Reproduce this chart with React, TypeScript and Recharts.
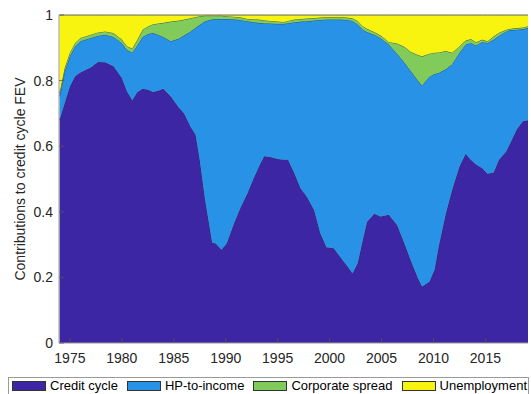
import { AreaChart, Area, XAxis, YAxis } from 'recharts';

const years = [
  1974.0, 1974.5, 1975.0, 1975.5, 1976.0, 1977.0, 1977.7, 1978.4, 1979.2, 1980.0,
  1980.5, 1981.0, 1981.5, 1982.0, 1982.5, 1983.0, 1983.5, 1984.0, 1984.7, 1985.5,
  1986.0, 1986.6, 1987.1, 1987.5, 1988.0, 1988.7, 1989.0, 1989.6, 1990.1, 1990.8,
  1991.4, 1992.1, 1992.7, 1993.2, 1993.7, 1994.3, 1995.0, 1995.6, 1996.0, 1996.6,
  1997.2, 1997.8, 1998.5, 1999.1, 1999.7, 2000.4, 2001.1, 2001.7, 2002.2, 2002.7,
  2003.2, 2003.6, 2004.3, 2004.9, 2005.7, 2006.5, 2007.2, 2007.8, 2008.5, 2008.9,
  2009.6, 2010.1, 2010.5, 2011.2, 2011.8, 2012.5, 2013.1, 2013.6, 2014.1, 2014.7,
  2015.2, 2015.8, 2016.3, 2017.0, 2017.4, 2018.0, 2018.6, 2019.1,
];

const creditCycle = [
  0.68, 0.732, 0.783, 0.813, 0.825, 0.84, 0.857, 0.856, 0.844, 0.808,
  0.767, 0.74, 0.765, 0.775, 0.772, 0.765, 0.769, 0.775, 0.752, 0.717,
  0.70, 0.66, 0.635, 0.559, 0.44, 0.306, 0.304, 0.284, 0.304, 0.365,
  0.411, 0.457, 0.503, 0.538, 0.569, 0.567, 0.561, 0.559, 0.559, 0.518,
  0.472, 0.447, 0.406, 0.335, 0.292, 0.289, 0.259, 0.235, 0.213, 0.243,
  0.315, 0.37, 0.394, 0.386, 0.391, 0.36, 0.304, 0.253, 0.198, 0.172,
  0.187, 0.223, 0.294, 0.396, 0.467, 0.538, 0.577, 0.559, 0.544, 0.533,
  0.516, 0.52, 0.559, 0.584, 0.61, 0.65, 0.676, 0.679,
];

const hpToIncome = [
  0.072, 0.097, 0.091, 0.092, 0.095, 0.09, 0.08, 0.084, 0.089, 0.107,
  0.126, 0.146, 0.143, 0.158, 0.17, 0.18, 0.171, 0.158, 0.168, 0.211,
  0.238, 0.29, 0.326, 0.411, 0.541, 0.681, 0.684, 0.704, 0.684, 0.622,
  0.574, 0.524, 0.475, 0.438, 0.406, 0.407, 0.412, 0.414, 0.416, 0.46,
  0.508, 0.534, 0.577, 0.65, 0.694, 0.697, 0.727, 0.75, 0.769, 0.728,
  0.64, 0.578, 0.546, 0.544, 0.519, 0.522, 0.551, 0.577, 0.602, 0.613,
  0.625, 0.597, 0.529, 0.439, 0.383, 0.347, 0.333, 0.356, 0.363, 0.385,
  0.399, 0.405, 0.378, 0.366, 0.344, 0.305, 0.281, 0.281,
];

const corporateSpread = [
  0.01, 0.01, 0.011, 0.01, 0.01, 0.01, 0.01, 0.01, 0.012, 0.01,
  0.012, 0.012, 0.017, 0.022, 0.023, 0.027, 0.034, 0.043, 0.06, 0.055,
  0.048, 0.04, 0.033, 0.026, 0.017, 0.011, 0.01, 0.01, 0.008, 0.008,
  0.008, 0.007, 0.009, 0.01, 0.009, 0.008, 0.007, 0.006, 0.007, 0.008,
  0.008, 0.008, 0.008, 0.007, 0.007, 0.007, 0.007, 0.007, 0.008, 0.011,
  0.011, 0.01, 0.008, 0.008, 0.008, 0.031, 0.048, 0.058, 0.078, 0.089,
  0.07, 0.065, 0.063, 0.055, 0.035, 0.02, 0.012, 0.012, 0.01, 0.007,
  0.005, 0.01, 0.009, 0.005, 0.004, 0.005, 0.005, 0.006,
];

const unemployment = [
  0.238, 0.161, 0.115, 0.085, 0.07, 0.06, 0.053, 0.05, 0.055, 0.075,
  0.095, 0.102, 0.075, 0.045, 0.035, 0.028, 0.026, 0.024, 0.02, 0.017,
  0.014, 0.01, 0.006, 0.004, 0.002, 0.002, 0.002, 0.002, 0.004, 0.005,
  0.007, 0.012, 0.013, 0.014, 0.016, 0.018, 0.02, 0.021, 0.018, 0.014,
  0.012, 0.011, 0.009, 0.008, 0.007, 0.007, 0.007, 0.008, 0.01, 0.018,
  0.034, 0.042, 0.052, 0.062, 0.082, 0.087, 0.097, 0.112, 0.122, 0.126,
  0.118, 0.115, 0.114, 0.11, 0.115, 0.095, 0.078, 0.073, 0.083, 0.075,
  0.08, 0.065, 0.054, 0.045, 0.042, 0.04, 0.038, 0.034,
];

const xTicks = [1975, 1980, 1985, 1990, 1995, 2000, 2005, 2010, 2015];
const yTicks = [0, 0.2, 0.4, 0.6, 0.8, 1];

const SERIES = [
  { key: 'credit', name: 'Credit cycle', color: '#3d26a3' },
  { key: 'hp', name: 'HP-to-income', color: '#2893e6' },
  { key: 'corp', name: 'Corporate spread', color: '#80cb59' },
  { key: 'unemp', name: 'Unemployment', color: '#f8f40f' },
];

const data = years.map((yr, i) => ({
  year: yr,
  credit: creditCycle[i],
  hp: hpToIncome[i],
  corp: corporateSpread[i],
  unemp: unemployment[i],
}));

const FONT = '"Liberation Sans", Arial, Helvetica, sans-serif';
const TEXT = '#262626';
const FRAME = '#9a9a9a';
const TICK = '#555';

const PLOT_TOP = 15;
const PLOT_BOTTOM = 343;
const PLOT_LEFT = 59;
const PLOT_RIGHT = 528;

function BottomTick({ x, payload }: any) {
  return (
    <g>
      <line x1={x} x2={x} y1={PLOT_BOTTOM} y2={PLOT_BOTTOM - 5} stroke={TICK} strokeWidth={0.8} />
      <text x={x} y={PLOT_BOTTOM + 20} textAnchor="middle" fontSize={14} fontFamily={FONT} fill={TEXT}>
        {payload.value}
      </text>
    </g>
  );
}

function TopTick({ x }: any) {
  return <line x1={x} x2={x} y1={PLOT_TOP} y2={PLOT_TOP + 5} stroke={TICK} strokeWidth={0.8} />;
}

function LeftTick({ y, payload }: any) {
  return (
    <g>
      <line x1={PLOT_LEFT} x2={PLOT_LEFT + 5} y1={y} y2={y} stroke={TICK} strokeWidth={0.8} />
      <text x={PLOT_LEFT - 6} y={y + 5} textAnchor="end" fontSize={14} fontFamily={FONT} fill={TEXT}>
        {payload.value}
      </text>
    </g>
  );
}

function RightTick({ y }: any) {
  return <line x1={PLOT_RIGHT} x2={PLOT_RIGHT - 5} y1={y} y2={y} stroke={TICK} strokeWidth={0.8} />;
}

function LegendBox() {
  return (
    <div
      style={{
        position: 'absolute',
        left: 8,
        top: 377,
        width: 521,
        height: 20,
        display: 'flex',
        alignItems: 'center',
        border: `1px solid ${FRAME}`,
        background: '#fff',
        fontFamily: FONT,
        fontSize: 13,
        color: '#000',
        paddingLeft: 3,
        paddingBottom: 3,
        boxSizing: 'border-box',
      }}
    >
      {SERIES.map((s, i) => (
        <div key={s.key} style={{ display: 'flex', alignItems: 'center', marginLeft: i === 0 ? 0 : 9 }}>
          <span
            style={{
              display: 'inline-block',
              width: 32,
              height: 8,
              background: s.color,
              border: '1px solid #333',
              marginRight: 4,
            }}
          />
          <span style={{ whiteSpace: 'nowrap' }}>{s.name}</span>
        </div>
      ))}
    </div>
  );
}

export default function App() {
  return (
    <div style={{ position: 'absolute', left: 0, top: 0, width: 531, height: 394, background: '#fff', overflow: 'hidden' }}>
      <AreaChart width={531} height={394} data={data} margin={{ top: PLOT_TOP, right: 531 - PLOT_RIGHT, bottom: 0, left: 0 }}>
        <XAxis
          xAxisId="b"
          dataKey="year"
          type="number"
          domain={[1973.95, 2019.1]}
          allowDataOverflow
          ticks={xTicks}
          height={394 - PLOT_BOTTOM}
          axisLine={{ stroke: FRAME }}
          tickLine={false}
          tick={<BottomTick />}
        />
        <XAxis
          xAxisId="t"
          dataKey="year"
          type="number"
          orientation="top"
          domain={[1973.95, 2019.1]}
          allowDataOverflow
          ticks={xTicks}
          height={0}
          axisLine={{ stroke: FRAME }}
          tickLine={false}
          tick={<TopTick />}
        />
        <YAxis
          yAxisId="l"
          type="number"
          domain={[0, 1]}
          ticks={yTicks}
          width={PLOT_LEFT}
          axisLine={{ stroke: FRAME }}
          tickLine={false}
          tick={<LeftTick />}
          label={{
            value: 'Contributions to credit cycle FEV',
            angle: -90,
            position: 'center',
            dx: -9,
            style: { fontFamily: FONT, fontSize: 14, fill: TEXT, textAnchor: 'middle' },
          }}
        />
        <YAxis
          yAxisId="r"
          orientation="right"
          type="number"
          domain={[0, 1]}
          ticks={yTicks}
          width={0}
          axisLine={{ stroke: FRAME }}
          tickLine={false}
          tick={<RightTick />}
        />
        {SERIES.map((s) => (
          <Area
            key={s.key}
            xAxisId="b"
            yAxisId="l"
            type="linear"
            dataKey={s.key}
            name={s.name}
            stackId="fev"
            fill={s.color}
            fillOpacity={1}
            stroke="#1e2a45"
            strokeWidth={0.7}
            isAnimationActive={false}
          />
        ))}
      </AreaChart>
      <LegendBox />
    </div>
  );
}
